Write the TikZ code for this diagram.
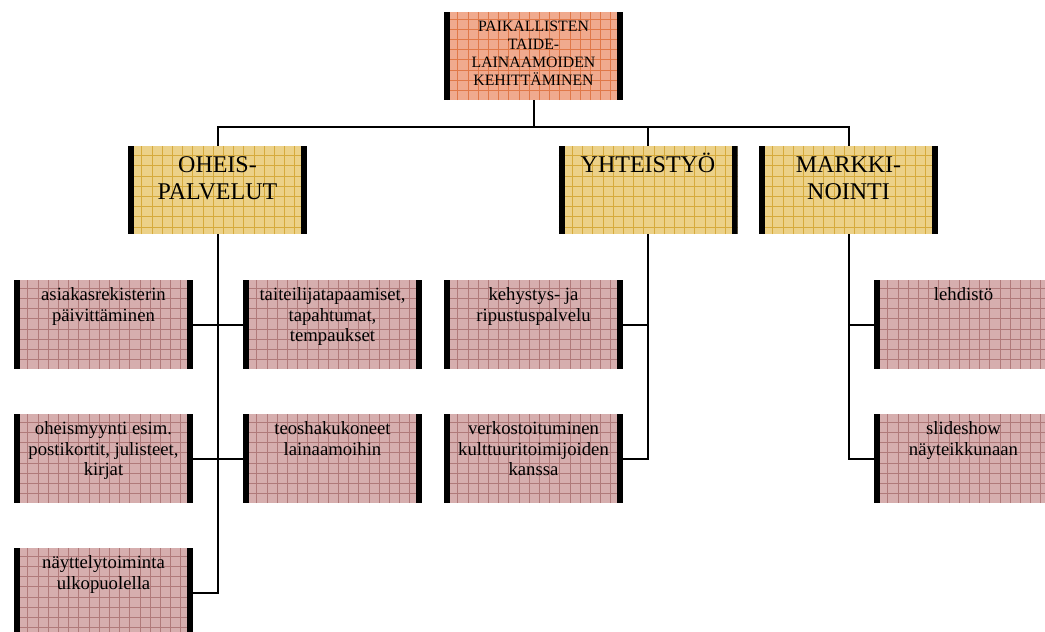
\documentclass[tikz,border=0pt]{standalone}
\usepackage{fontspec}
\setmainfont{Liberation Serif}
\usetikzlibrary{positioning, calc}
\definecolor{topfill}{HTML}{F0AA8E}
\definecolor{topgrid}{HTML}{E07848}
\definecolor{midfill}{HTML}{ECD188}
\definecolor{midgrid}{HTML}{D6AA3C}
\definecolor{lowfill}{HTML}{D6AEAE}
\definecolor{lowgrid}{HTML}{B07A7A}
\newcommand{\boxtext}[3]{\parbox[c][#1][t]{172pt}{\centering\rule{0pt}{#2}#3}}
\tikzset{
  gridbox/.style 2 args={rectangle, inner sep=0pt, minimum width=179pt,
    path picture={
      \fill[#1] (path picture bounding box.south west) rectangle (path picture bounding box.north east);
      \draw[#2, line width=0.5pt, step=10.2pt] (path picture bounding box.south west) grid (path picture bounding box.north east);
      \fill[black] (path picture bounding box.south west) rectangle ([xshift=6pt]path picture bounding box.north west);
      \fill[black] (path picture bounding box.south east) rectangle ([xshift=-6pt]path picture bounding box.north east);
    }},
  topbox/.style={gridbox={topfill}{topgrid}, font=\fontsize{15.8}{18}\selectfont},
  midbox/.style={gridbox={midfill}{midgrid}, font=\fontsize{24}{27}\selectfont},
  lowbox/.style={gridbox={lowfill}{lowgrid}, font=\fontsize{18.7}{20.5}\selectfont},
}

\begin{document}
\begin{tikzpicture}[x=1pt, y=-1pt, conn/.style={draw=black, line width=2pt}]
\useasboundingbox (0,0) rectangle (1045,632);
\clip (0,0) rectangle (1045,632);
% Top box
\node[topbox] (paik) at (533.5,56) {\boxtext{88pt}{19pt}{PAIKALLISTEN\\TAIDE-\\LAINAAMOIDEN\\KEHITTÄMINEN}};
% Second level
\node[midbox] (oheis) at (217.5,190) {\boxtext{88pt}{26pt}{OHEIS-\\PALVELUT}};
\node[midbox] (yhteis) at (648,190) {\boxtext{88pt}{26pt}{YHTEISTYÖ}};
\node[midbox] (markk) at (848.5,190) {\boxtext{88pt}{26pt}{MARKKI-\\NOINTI}};
% Third level, left
\node[lowbox] (asiak) at (103.5,324.5) {\boxtext{89pt}{20.5pt}{asiakasrekisterin\\päivittäminen}};
\node[lowbox] (taite) at (332.5,324.5) {\boxtext{89pt}{20.5pt}{taiteilijatapaamiset,\\tapahtumat,\\tempaukset}};
\node[lowbox] (oheism) at (103.5,458.5) {\boxtext{89pt}{20.5pt}{oheismyynti esim.\\postikortit, julisteet,\\kirjat}};
\node[lowbox] (teosh) at (332.5,458.5) {\boxtext{89pt}{20.5pt}{teoshakukoneet\\lainaamoihin}};
\node[lowbox] (nayttely) at (103.5,592.5) {\boxtext{89pt}{20.5pt}{näyttelytoiminta\\ulkopuolella}};
% Third level, middle and right
\node[lowbox] (kehys) at (533.5,324.5) {\boxtext{89pt}{20.5pt}{kehystys- ja\\ripustuspalvelu}};
\node[lowbox] (verkos) at (533.5,458.5) {\boxtext{89pt}{20.5pt}{verkostoituminen\\kulttuuritoimijoiden\\kanssa}};
\node[lowbox] (lehdis) at (963.5,324.5) {\boxtext{89pt}{20.5pt}{lehdistö}};
\node[lowbox] (slides) at (963.5,458.5) {\boxtext{89pt}{20.5pt}{slideshow\\näyteikkunaan}};
% Connectors
\coordinate (bus) at (533.5,127);
\draw[conn] (paik.south) -- (bus);
\draw[conn] (oheis.north) |- (bus) -| (markk.north);
\draw[conn] (yhteis.north) -- (yhteis.north |- bus);
\draw[conn] (oheis.south) -- (oheis.south |- nayttely.east) -- (nayttely.east);
\draw[conn] (asiak.east) -- (taite.west);
\draw[conn] (oheism.east) -- (teosh.west);
\draw[conn] (yhteis.south) -- (yhteis.south |- verkos.east) -- (verkos.east);
\draw[conn] (kehys.east) -- (yhteis.south |- kehys.east);
\draw[conn] (markk.south) -- (markk.south |- slides.west) -- (slides.west);
\draw[conn] (lehdis.west) -- (markk.south |- lehdis.west);
\end{tikzpicture}
\end{document}
